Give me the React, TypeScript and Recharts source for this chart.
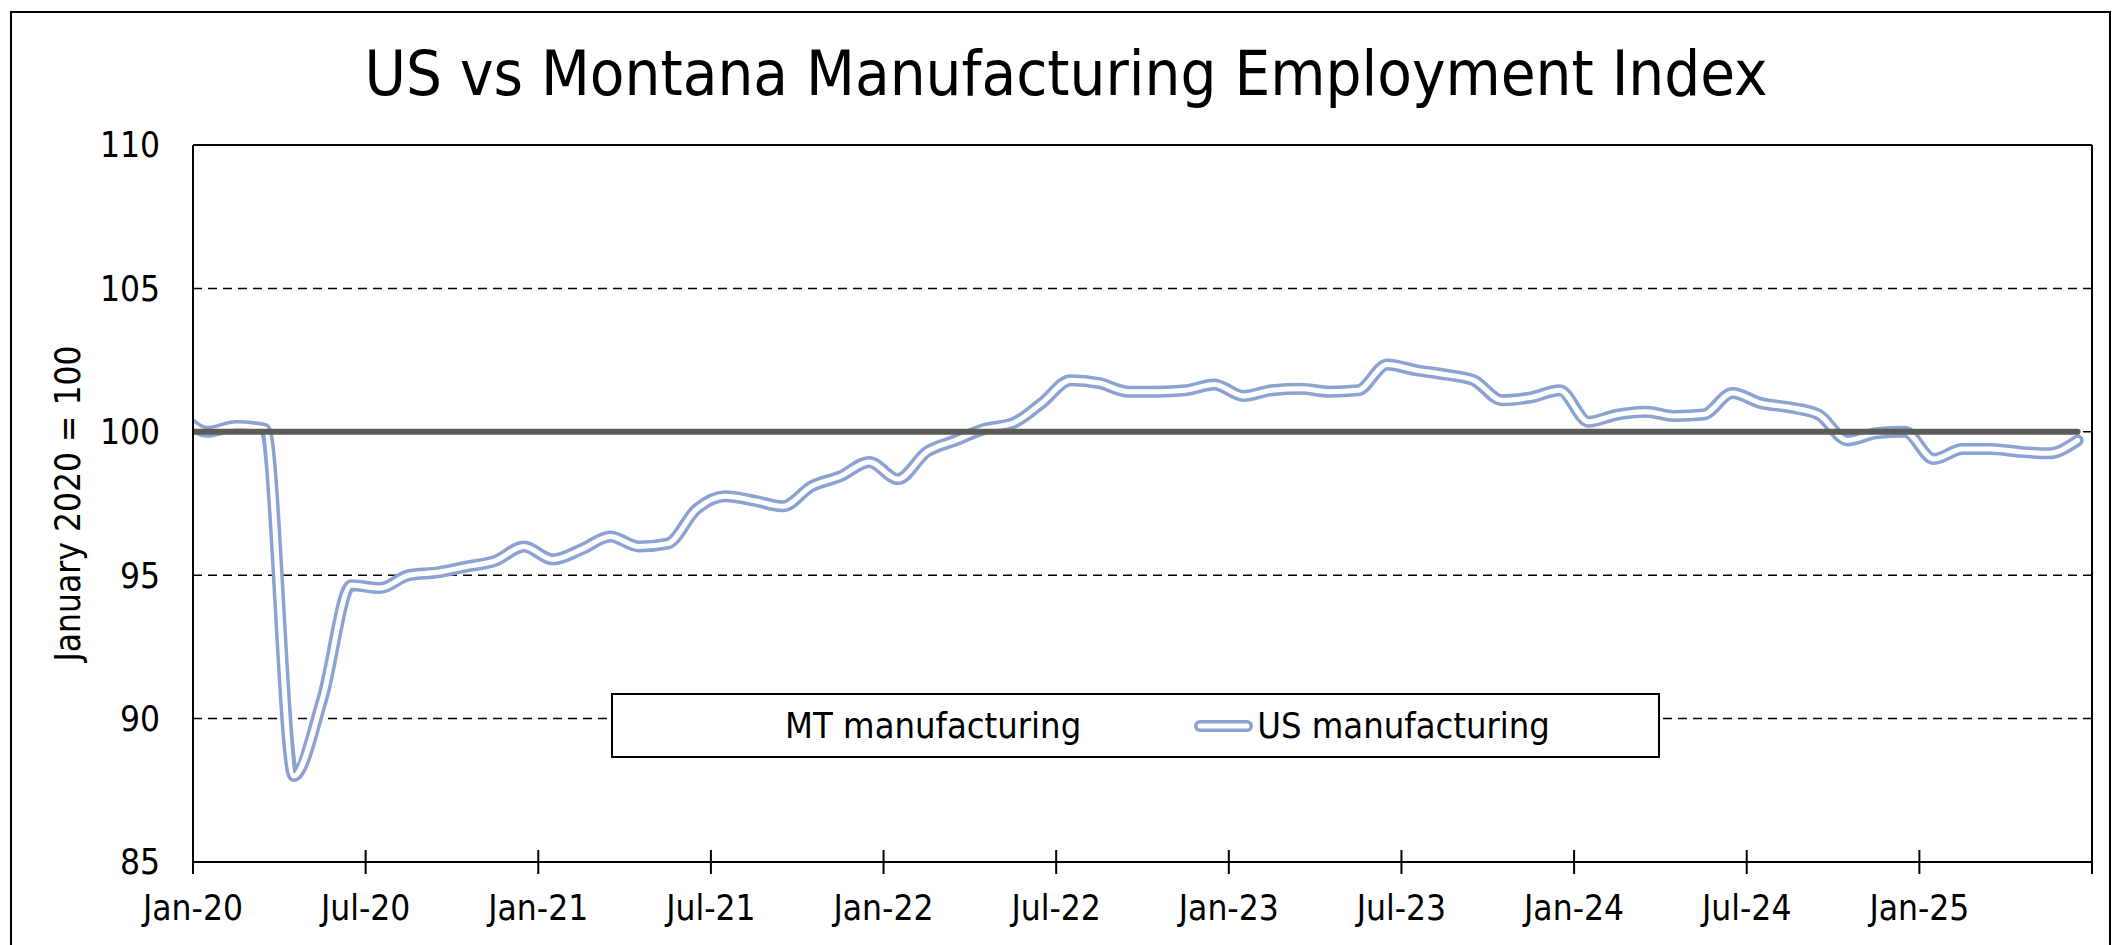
import { CartesianGrid, Label, Legend, Line, LineChart, ReferenceLine, XAxis, YAxis } from 'recharts';

// monthly readings, Dec-19 .. Jun-25 (Dec-19 sits left of the axis start and is clipped)
const months = [
  'Dec-19',
  'Jan-20', 'Feb-20', 'Mar-20', 'Apr-20', 'May-20', 'Jun-20', 'Jul-20', 'Aug-20', 'Sep-20', 'Oct-20', 'Nov-20', 'Dec-20',
  'Jan-21', 'Feb-21', 'Mar-21', 'Apr-21', 'May-21', 'Jun-21', 'Jul-21', 'Aug-21', 'Sep-21', 'Oct-21', 'Nov-21', 'Dec-21',
  'Jan-22', 'Feb-22', 'Mar-22', 'Apr-22', 'May-22', 'Jun-22', 'Jul-22', 'Aug-22', 'Sep-22', 'Oct-22', 'Nov-22', 'Dec-22',
  'Jan-23', 'Feb-23', 'Mar-23', 'Apr-23', 'May-23', 'Jun-23', 'Jul-23', 'Aug-23', 'Sep-23', 'Oct-23', 'Nov-23', 'Dec-23',
  'Jan-24', 'Feb-24', 'Mar-24', 'Apr-24', 'May-24', 'Jun-24', 'Jul-24', 'Aug-24', 'Sep-24', 'Oct-24', 'Nov-24', 'Dec-24',
  'Jan-25', 'Feb-25', 'Mar-25', 'Apr-25', 'May-25', 'Jun-25',
];

const usManufacturing = [
  100.7,
  100.0, 100.2, 100.1, 88.0, 90.7, 94.65, 94.55, 95.0, 95.1, 95.3, 95.5, 96.0,
  95.55, 95.9, 96.35, 96.0, 96.1, 97.3, 97.75, 97.6, 97.4, 98.1, 98.45, 98.95,
  98.35, 99.3, 99.7, 100.1, 100.3, 101.0, 101.8, 101.7, 101.4, 101.4, 101.45, 101.65,
  101.25, 101.45, 101.5, 101.4, 101.45, 102.35, 102.15, 102.0, 101.8, 101.1, 101.2, 101.45,
  100.35, 100.6, 100.7, 100.55, 100.6, 101.35, 101.0, 100.85, 100.6, 99.7, 99.95, 100.0,
  99.05, 99.4, 99.4, 99.3, 99.25, 99.7,
];

const mtManufacturing = [
  100,
  100, 100, 100, 100, 100, 100, 100, 100, 100, 100, 100, 100,
  100, 100, 100, 100, 100, 100, 100, 100, 100, 100, 100, 100,
  100, 100, 100, 100, 100, 100, 100, 100, 100, 100, 100, 100,
  100, 100, 100, 100, 100, 100, 100, 100, 100, 100, 100, 100,
  100, 100, 100, 100, 100, 100, 100, 100, 100, 100, 100, 100,
  100, 100, 100, 100, 100, 100,
];

// x axis counts months from Jan-20
const xTicks = [0, 6, 12, 18, 24, 30, 36, 42, 48, 54, 60, 66];
const xTickLabels = ['Jan-20', 'Jul-20', 'Jan-21', 'Jul-21', 'Jan-22', 'Jul-22', 'Jan-23', 'Jul-23', 'Jan-24', 'Jul-24', 'Jan-25', ''];
const yTicks = [85, 90, 95, 100, 105, 110];

const FONT = '"DejaVu Sans Condensed", "DejaVu Sans", sans-serif';
const US_BLUE = '#8ca2d2';
const MT_GRAY = '#5b5c57';

const legendOrder = ['MT manufacturing', 'US manufacturing'];

// readings are plotted mid-month
const chartData = months.map((month, i) => ({
  month,
  pos: i - 0.5,
  us: usManufacturing[i],
  mt: mtManufacturing[i],
}));

function XTick({ x, y, payload }: any) {
  const idx = xTicks.indexOf(payload.value);
  return (
    <g>
      <line x1={x} x2={x} y1={y - 12} y2={y + 12} stroke="#000" strokeWidth={2} />
      <text x={x} y={y + 58} textAnchor="middle" fontSize={35} fill="#000" fontFamily={FONT}>
        {idx >= 0 ? xTickLabels[idx] : ''}
      </text>
    </g>
  );
}

function LegendBox({ payload }: any) {
  const items = (payload ?? [])
    .filter((p: any) => p.type !== 'none' && legendOrder.includes(p.value))
    .sort((a: any, b: any) => legendOrder.indexOf(a.value) - legendOrder.indexOf(b.value));

  return (
    <div
      style={{
        boxSizing: 'border-box',
        width: 1049,
        height: 65,
        border: '2px solid #000',
        background: '#fff',
        display: 'flex',
        alignItems: 'center',
        justifyContent: 'center',
        gap: 112,
        fontFamily: FONT,
        fontSize: 36,
        color: '#000',
      }}
    >
      {items.map((item: any) => (
        <div key={item.value} style={{ display: 'flex', alignItems: 'center' }}>
          <svg width={61} height={20} style={{ marginRight: 3 }}>
            {item.value === 'US manufacturing' && (
              <>
                <line x1={7} x2={54} y1={10} y2={10} stroke={US_BLUE} strokeWidth={12} strokeLinecap="round" />
                <line x1={7} x2={54} y1={10} y2={10} stroke="#fff" strokeWidth={5} strokeLinecap="round" />
              </>
            )}
          </svg>
          <span>{item.value}</span>
        </div>
      ))}
    </div>
  );
}

export default function App() {
  return (
    <div
      style={{
        position: 'absolute',
        left: 0,
        top: 0,
        width: 2119,
        height: 945,
        overflow: 'hidden',
        background: '#fff',
        fontFamily: FONT,
      }}
    >
      <div
        style={{
          position: 'absolute',
          left: 10,
          top: 11,
          width: 2101,
          height: 960,
          border: '2px solid #000',
          boxSizing: 'border-box',
        }}
      />
      <LineChart
        width={2119}
        height={945}
        data={chartData}
        margin={{ top: 145, right: 27, bottom: 0, left: 0 }}
      >
        <CartesianGrid
          horizontal
          vertical={false}
          stroke="#000"
          strokeWidth={1.5}
          strokeDasharray="9 6"
        />
        <XAxis
          dataKey="pos"
          type="number"
          domain={[0, 66]}
          ticks={xTicks}
          allowDataOverflow
          height={83}
          tickSize={0}
          tickMargin={0}
          tickLine={false}
          axisLine={{ stroke: '#000', strokeWidth: 2 }}
          tick={<XTick />}
          interval={0}
        />
        <YAxis
          type="number"
          domain={[85, 110]}
          ticks={yTicks}
          width={193}
          tickLine={false}
          tickSize={0}
          tickMargin={33}
          axisLine={{ stroke: '#000', strokeWidth: 2 }}
          tick={{ fontSize: 35, fill: '#000', fontFamily: FONT }}
          interval={0}
        >
          <Label
            value="January 2020 = 100"
            angle={-90}
            position="insideLeft"
            offset={68}
            style={{ textAnchor: 'middle', fontSize: 35, fill: '#000', fontFamily: FONT }}
          />
        </YAxis>
        {/* plot frame: top and right edges */}
        <ReferenceLine y={110} stroke="#000" strokeWidth={2} />
        <ReferenceLine x={66} stroke="#000" strokeWidth={2} />
        <Legend
          layout="horizontal"
          verticalAlign="middle"
          align="center"
          wrapperStyle={{ left: 611, top: 693, width: 1049, height: 65 }}
          content={<LegendBox />}
        />
        <Line
          type="monotone"
          dataKey="us"
          name="US manufacturing"
          stroke={US_BLUE}
          strokeWidth={12}
          strokeLinecap="round"
          strokeLinejoin="round"
          dot={false}
          activeDot={false}
          isAnimationActive={false}
        />
        <Line
          type="monotone"
          dataKey="us"
          name="US manufacturing inner"
          legendType="none"
          stroke="#fff"
          strokeWidth={5}
          strokeLinecap="round"
          strokeLinejoin="round"
          dot={false}
          activeDot={false}
          isAnimationActive={false}
        />
        <Line
          type="monotone"
          dataKey="mt"
          name="MT manufacturing"
          stroke={MT_GRAY}
          strokeWidth={6}
          strokeLinecap="round"
          dot={false}
          activeDot={false}
          isAnimationActive={false}
        />
      </LineChart>
      <svg
        width={2119}
        height={945}
        style={{ position: 'absolute', left: 0, top: 0, pointerEvents: 'none' }}
      >
        <text x={1066} y={95} textAnchor="middle" fontSize={63} fill="#000" fontFamily={FONT}>
          US vs Montana Manufacturing Employment Index
        </text>
      </svg>
    </div>
  );
}
